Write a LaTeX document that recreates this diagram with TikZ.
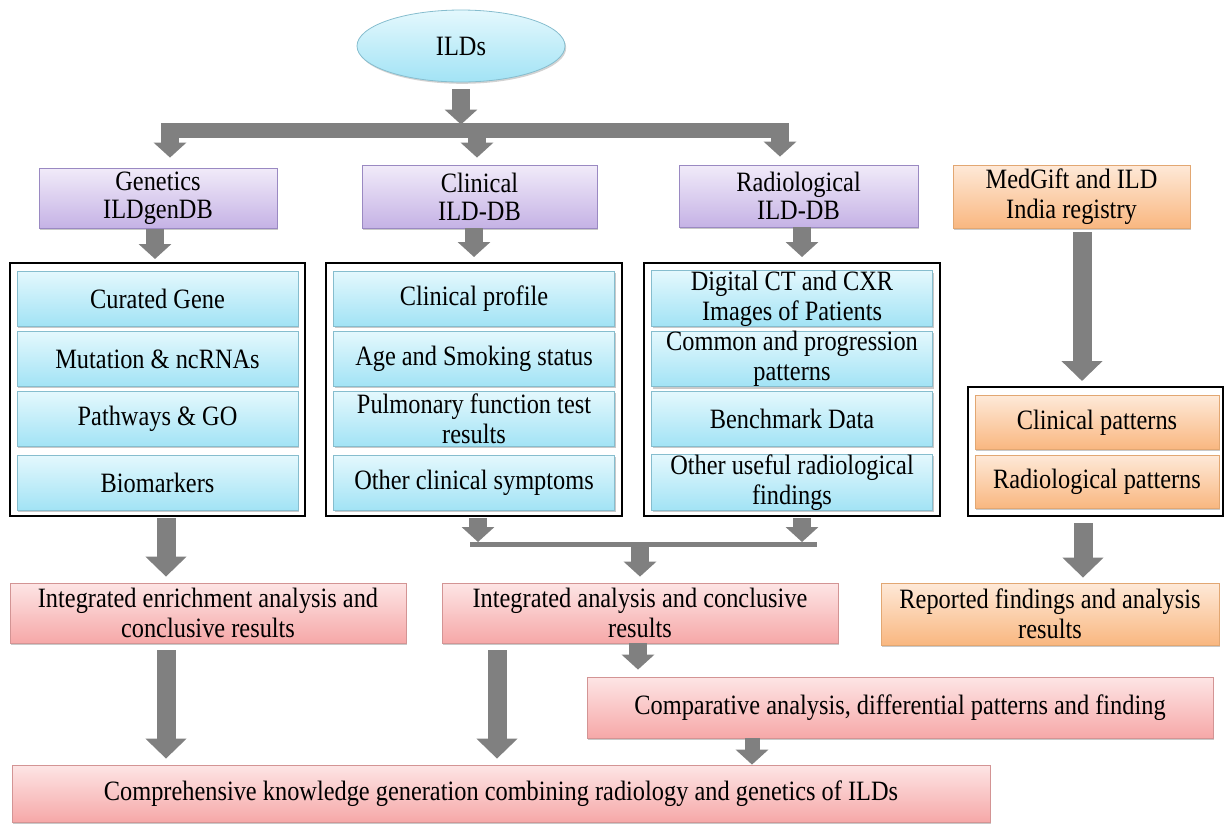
\documentclass[tikz,border=0pt]{standalone}
\usepackage{fontspec}
\setmainfont{Liberation Serif}[FakeStretch=0.87]
\usetikzlibrary{arrows.meta,shapes.geometric,shadows}

\definecolor{arrowgrey}{HTML}{808080}
\definecolor{purpletop}{HTML}{F1EBF9}
\definecolor{purplebot}{HTML}{C5B2E5}
\definecolor{purpleedge}{HTML}{9A89C2}
\definecolor{cyantop}{HTML}{E4F8FD}
\definecolor{cyanbot}{HTML}{A2E3F5}
\definecolor{cyanedge}{HTML}{86BDCE}
\definecolor{orangetop}{HTML}{FEE9D8}
\definecolor{orangebot}{HTML}{F9B780}
\definecolor{orangeedge}{HTML}{E2A772}
\definecolor{pinktop}{HTML}{FDE5E5}
\definecolor{pinkbot}{HTML}{F6A8A8}
\definecolor{pinkedge}{HTML}{D39494}

\begin{document}
\begin{tikzpicture}[x=1pt,y=-1pt,
  txt/.style={font=\fontsize{28}{30}\selectfont, align=center, inner sep=0pt, text=black},
  gradbox/.style={txt, rectangle, line width=0.8pt,
    drop shadow={shadow xshift=1.2pt, shadow yshift=-1.8pt, opacity=0.3, fill=black!70}},
  purplebox/.style={gradbox, draw=purpleedge, top color=purpletop, bottom color=purplebot,
    font=\fontsize{28}{28}\selectfont},
  cyanbox/.style={gradbox, draw=cyanedge, top color=cyantop, bottom color=cyanbot},
  orangebox/.style={gradbox, draw=orangeedge, top color=orangetop, bottom color=orangebot},
  pinkbox/.style={gradbox, draw=pinkedge, top color=pinktop, bottom color=pinkbot},
  container/.style={draw=black, line width=2pt, inner sep=0pt, minimum height=253pt},
  blockarrow/.style={draw=arrowgrey, line width=18pt, -{Triangle[width=32pt,length=15pt]}},
  bigarrow/.style={draw=arrowgrey, line width=19pt, -{Triangle[width=40pt,length=20pt]}},
]
\useasboundingbox (0,0) rectangle (1225,823);

% ---------- top: source ellipse and the three databases ----------
\node[ellipse, txt, draw=cyanedge, line width=0.8pt, top color=cyantop, bottom color=cyanbot,
  minimum width=208pt, minimum height=72pt,
  drop shadow={shadow xshift=1.2pt, shadow yshift=-1.8pt, opacity=0.25, fill=black!70}]
  (ild) at (461,46) {ILDs};

\node[purplebox, minimum width=238pt, minimum height=60pt] (gen) at (158,198) {Genetics\\ILDgenDB};
\node[purplebox, minimum width=235pt, minimum height=63pt] (cli) at (479.5,196.5) {Clinical\\ILD-DB};
\node[purplebox, minimum width=239pt, minimum height=62pt] (rad) at (798.5,196) {Radiological\\ILD-DB};
\node[orangebox, minimum width=237pt, minimum height=63pt] (med) at (1071.5,196.5) {MedGift and ILD\\India registry};

% distribution bus
\coordinate (busL) at (170,130.5);
\coordinate (busM) at (477,130.5);
\coordinate (busR) at (780,130.5);
\draw[arrowgrey, line width=15pt] ([xshift=-9pt]busL) -- ([xshift=9pt]busR);
\draw[blockarrow, shorten <=7pt, shorten >=6pt] (ild.south) -- (ild.south |- busL);
\draw[blockarrow, shorten >=10pt] (busL) -- (busL |- gen.north);
\draw[blockarrow, shorten >=7pt] (busM) -- (busM |- cli.north);
\draw[blockarrow, shorten >=8pt] (busR) -- (busR |- rad.north);

% ---------- containers with their content boxes ----------
\node[container, minimum width=295pt] (gcont) at (157.5,389.5) {};
\node[container, minimum width=296pt] (ccont) at (474,389.5) {};
\node[container, minimum width=296pt] (rcont) at (792,389.5) {};
\node[container, minimum width=255pt, minimum height=129pt] (ocont) at (1095.5,451.5) {};

\tikzset{row/.style={cyanbox, minimum width=281pt, minimum height=55pt}}
\node[row] (g1) at (157.5,298.5) {Curated Gene};
\node[row] (g2) at (157.5,359) {Mutation \& ncRNAs};
\node[row] (g3) at (157.5,419) {Pathways \& GO};
\node[row] (g4) at (157.5,482.5) {Biomarkers};

\node[row] (c1) at (474,298.5) {Clinical profile};
\node[row] (c2) at (474,359) {Age and Smoking status};
\node[row] (c3) at (474,419) {Pulmonary function test\\results};
\node[row] (c4) at (474,482.5) {Other clinical symptoms};

\node[row] (r1) at (792,298.5) {Digital CT and CXR\\Images of Patients};
\node[row] (r2) at (792,359) {Common and progression\\patterns};
\node[row] (r3) at (792,419) {Benchmark Data};
\node[row] (r4) at (792,482.5) {Other useful radiological\\findings};

\node[orangebox, minimum width=244pt, minimum height=54pt] (o1) at (1097,422.5) {Clinical patterns};
\node[orangebox, minimum width=244pt, minimum height=53pt] (o2) at (1097,481.5) {Radiological patterns};

\draw[blockarrow, shorten <=1pt, shorten >=3pt] ([xshift=-3pt]gen.south) -- ([xshift=-3pt]gen.south |- gcont.north);
\draw[blockarrow, shorten <=0pt, shorten >=5pt] ([xshift=-5.5pt]cli.south) -- ([xshift=-5.5pt]cli.south |- ccont.north);
\draw[blockarrow, shorten <=0pt, shorten >=5pt] ([xshift=3.5pt]rad.south) -- ([xshift=3.5pt]rad.south |- rcont.north);
\draw[bigarrow, shorten <=4pt, shorten >=5pt] ([xshift=10.5pt]med.south) -- ([xshift=10.5pt]med.south |- ocont.north);

% ---------- analysis stage ----------
\node[pinkbox, minimum width=396pt, minimum height=60pt] (enr) at (208,613) {Integrated enrichment analysis and\\conclusive results};
\node[pinkbox, minimum width=396pt, minimum height=60pt] (integ) at (640,613) {Integrated analysis and conclusive\\results};
\node[orangebox, minimum width=338pt, minimum height=62pt] (rep) at (1050,614) {Reported findings and analysis\\results};
\node[pinkbox, minimum width=626pt, minimum height=61pt] (comp) at (900,707.5) {Comparative analysis, differential patterns and finding};
\node[pinkbox, minimum width=978pt, minimum height=57pt] (compre) at (501,793.5) {Comprehensive knowledge generation combining radiology and genetics of ILDs};

% merging bracket below clinical and radiological
\coordinate (brL) at (470,544.5);
\coordinate (brM) at (640,544.5);
\coordinate (brR) at (817,544.5);
\draw[arrowgrey, line width=5pt] (brL) -- (brR);
\draw[blockarrow, shorten <=1pt, shorten >=2.5pt] ([xshift=4pt]ccont.south) -- ([xshift=4pt]ccont.south |- brL);
\draw[blockarrow, shorten <=1pt, shorten >=2.5pt] ([xshift=10pt]rcont.south) -- ([xshift=10pt]rcont.south |- brR);
\draw[blockarrow, shorten >=6pt] (brM) -- (brM |- integ.north);

\draw[bigarrow, shorten <=1pt, shorten >=6pt] ([xshift=8.5pt]gcont.south) -- ([xshift=8.5pt]gcont.south |- enr.north);
\draw[bigarrow, shorten <=6pt, shorten >=5pt] ([xshift=-12.5pt]ocont.south) -- ([xshift=-12.5pt]ocont.south |- rep.north);

\draw[blockarrow, shorten >=7pt] ([xshift=-2pt]integ.south) -- ([xshift=-2pt]integ.south |- comp.north);
\draw[bigarrow, shorten <=7pt, shorten >=6pt] ([xshift=-143pt]integ.south) -- ([xshift=-143pt]integ.south |- compre.north);
\draw[bigarrow, shorten <=7pt, shorten >=6pt] ([xshift=-42pt]enr.south) -- ([xshift=-42pt]enr.south |- compre.north);
\draw[blockarrow, line width=15pt] ([xshift=-148pt]comp.south) -- ([xshift=-148pt]comp.south |- compre.north);

\end{tikzpicture}
\end{document}
